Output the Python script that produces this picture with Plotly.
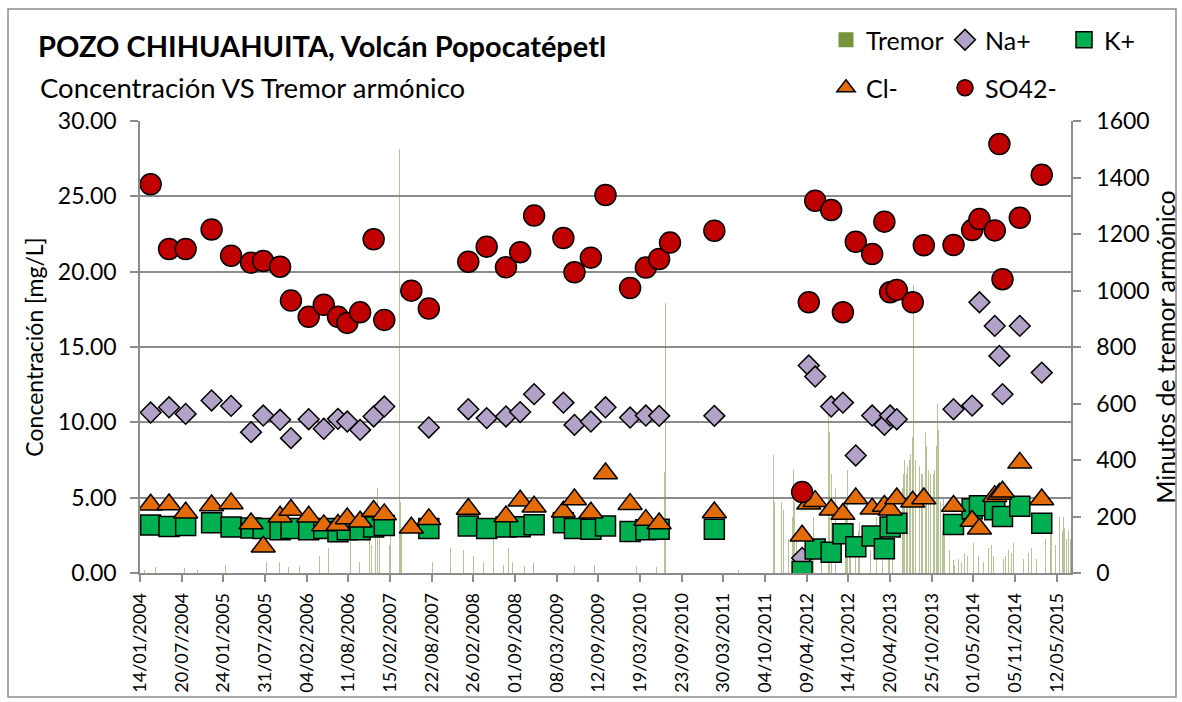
import pandas as pd
import plotly.graph_objects as go

FONT = "Lato"

# ---------------- data ----------------
sample_dates = [
    "2004-03-02", "2004-05-24", "2004-08-07", "2004-12-02", "2005-02-28", "2005-05-29",
    "2005-07-23", "2005-10-07", "2005-11-25", "2006-02-13", "2006-04-22", "2006-06-25",
    "2006-08-06", "2006-10-03", "2006-12-03", "2007-01-20", "2007-05-22", "2007-08-09",
    "2008-02-03", "2008-04-26", "2008-07-22", "2008-09-24", "2008-11-26", "2009-04-07",
    "2009-05-27", "2009-08-09", "2009-10-14", "2010-02-02", "2010-04-14", "2010-06-13",
    "2010-08-01", "2011-02-17", "2012-03-19", "2012-04-18", "2012-05-17", "2012-07-28",
    "2012-09-19", "2012-11-16", "2013-01-29", "2013-03-25", "2013-04-20", "2013-05-20",
    "2013-07-31", "2013-09-19", "2014-01-31", "2014-04-25", "2014-05-28", "2014-08-05",
    "2014-08-26", "2014-09-09", "2014-11-26", "2015-03-05",
]

so4 = [25.8, 21.5, 21.5, 22.8, 21.06, 20.6, 20.7, 20.33, 18.08, 17.0, 17.8, 17.0,
       16.6, 17.3, 22.15, 16.8, 18.74, 17.55, 20.66, 21.66, 20.29, 21.29, 23.72, 22.23,
       19.96, 20.93, 25.09, 18.92, 20.27, 20.84, 21.93, 22.72, 5.37, 17.97, 24.71, 24.09,
       17.31, 21.99, 21.17, 23.32, 18.63, 18.79, 17.97, 21.75, 21.77, 22.76, 23.49, 22.74,
       28.47, 19.5, 23.58, 26.43]

na = [10.65, 11.0, 10.56, 11.45, 11.09, 9.35, 10.45, 10.17, 8.95, 10.21, 9.57, 10.23,
      10.05, 9.5, 10.39, 11.05, None, 9.66, 10.87, 10.28, 10.39, 10.68, 11.87, 11.31,
      9.83, 10.05, 11.0, 10.32, 10.45, 10.43, None, 10.43, 1.0, 13.77, 13.04, 11.05,
      11.31, 7.8, 10.45, 9.83, 10.45, 10.21, None, None, 10.87, 11.11, 17.97, 16.4,
      14.41, 11.87, 16.4, 13.3]

cl = [4.53, 4.55, 4.0, 4.48, 4.62, 3.29, 1.74, 3.73, 4.18, 3.73, 3.16, 3.18,
      3.62, 3.4, 4.11, 3.89, 3.0, 3.56, 4.25, None, 3.75, 4.79, 4.4, 4.06,
      4.88, 4.0, 6.6, 4.57, 3.51, 3.29, None, 4.02, 2.47, 4.6, 4.77, 4.2,
      3.91, 4.95, 4.26, 4.44, 4.2, 4.95, 4.73, 4.95, 4.44, 3.45, 2.94, 5.1,
      5.25, 5.39, 7.31, 4.88]

k = [3.18, 3.09, 3.16, 3.34, 3.05, 2.98, 2.96, 2.87, 2.96, 2.87, 2.96, 2.74,
     2.87, 2.87, 3.05, 3.16, None, 2.96, 3.12, 2.96, 3.05, 3.07, 3.2, 3.34,
     2.96, 2.91, 3.12, 2.76, 2.87, 2.91, None, 2.91, 0.1, None, 1.6, 1.37,
     2.6, 1.75, 2.45, 1.61, 3.06, 3.3, None, None, 3.22, 4.26, 4.46, 4.2,
     None, 3.75, 4.43, 3.3]

# Tremor: (Excel serial date, minutes of harmonic tremor)
tremor_2004_2006 = [
    (38020, 12), (38045, 8), (38070, 20), (38104, 59), (38140, 10), (38175, 15),
    (38200, 18), (38229, 300), (38260, 12), (38290, 20), (38320, 15), (38347, 40),
    (38360, 25), (38370, 55), (38385, 30), (38406, 45), (38430, 20), (38460, 35),
    (38475, 60), (38492, 128), (38500, 70), (38510, 45), (38527, 107), (38545, 30),
    (38570, 40), (38587, 50), (38610, 25), (38630, 40), (38645, 35), (38670, 20),
    (38699, 30), (38720, 25), (38745, 50), (38770, 40), (38790, 20), (38810, 60),
    (38835, 35), (38850, 90), (38870, 40), (38890, 55), (38910, 30), (38935, 70),
    (38950, 120), (38962, 460), (38975, 60), (38990, 40), (39005, 80), (39020, 60),
    (39035, 150), (39045, 100),
]
tremor_2007_2008 = [
    (39050, 150), (39057, 390), (39062, 250), (39068, 718), (39072, 300), (39075, 200),
    (39080, 200), (39087, 718), (39092, 400), (39096, 300), (39100, 250), (39110, 150),
    (39115, 200), (39125, 100), (39130, 150), (39140, 250), (39146, 718), (39151, 1200),
    (39155, 400), (39160, 200), (39165, 300), (39170, 1500), (39175, 250), (39180, 150),
    (39187, 300), (39200, 60), (39215, 40), (39240, 50), (39260, 30), (39277, 95),
    (39300, 60), (39320, 40), (39340, 80), (39361, 200), (39375, 120), (39384, 213),
    (39400, 90), (39421, 150), (39440, 50), (39460, 80), (39480, 60), (39494, 100),
    (39505, 60), (39519, 107), (39534, 60), (39550, 40), (39565, 70), (39580, 50),
    (39594, 118), (39610, 45), (39624, 60), (39640, 30), (39662, 88), (39680, 40),
    (39697, 40), (39715, 30), (39735, 25), (39760, 800), (39775, 35), (39795, 50),
    (39817, 118),
]
tremor_2009_2011 = [
    (39840, 40), (39863, 60), (39880, 30), (39903, 88), (39922, 60), (39940, 30),
    (39960, 25), (39994, 40), (40020, 20), (40050, 30), (40076, 30), (40098, 89),
    (40130, 25), (40166, 30), (40200, 20), (40240, 25), (40270, 15), (40301, 30),
    (40330, 20), (40355, 60), (40366, 359), (40370, 957), (40376, 120), (40382, 80),
    (40410, 30), (40444, 41), (40480, 15), (40527, 20), (40617, 15), (40700, 10),
    (40780, 12), (40810, 30), (40830, 50), (40843, 60), (40850, 120), (40858, 418),
    (40862, 250), (40866, 200), (40870, 180), (40874, 150), (40882, 80), (40886, 300),
    (40891, 659), (40894, 250), (40897, 200), (40900, 180), (40903, 224), (40906, 220),
    (40910, 359), (40915, 250), (40920, 120), (40926, 120), (40933, 100), (40940, 60),
    (40944, 200), (40948, 365), (40952, 250), (40958, 80), (40962, 120), (40965, 150),
    (40972, 100), (40980, 60), (40985, 150), (40990, 120), (40995, 180),
]
tremor_2012 = [
    (41000, 200), (41004, 120), (41010, 90), (41014, 150), (41020, 60), (41026, 80),
    (41032, 120), (41038, 200), (41045, 80), (41050, 120), (41055, 100), (41060, 180),
    (41068, 150), (41074, 100), (41080, 100), (41086, 220), (41091, 250), (41095, 180),
    (41100, 300), (41103, 400), (41106, 588), (41110, 500), (41113, 798), (41116, 300),
    (41120, 350), (41123, 280), (41127, 400), (41130, 350), (41134, 250), (41138, 300),
    (41141, 659), (41145, 250), (41150, 200), (41154, 180), (41158, 150), (41162, 220),
    (41166, 365), (41170, 200), (41175, 120), (41179, 150), (41183, 200), (41187, 250),
    (41191, 365), (41195, 200), (41200, 150), (41205, 180), (41213, 200), (41217, 150),
    (41222, 100), (41228, 120), (41234, 250), (41238, 200), (41242, 150), (41246, 180),
    (41249, 354), (41254, 250), (41258, 120), (41262, 150), (41267, 150), (41271, 130),
    (41276, 100), (41280, 180), (41285, 270),
]
tremor_2013 = [
    (41295, 80), (41299, 100), (41303, 150), (41307, 120), (41312, 120), (41317, 150),
    (41322, 200), (41326, 120), (41330, 100), (41334, 180), (41339, 330), (41344, 250),
    (41350, 200), (41355, 200), (41361, 150), (41366, 180), (41370, 250), (41373, 300),
    (41377, 200), (41381, 250), (41384, 354), (41389, 200), (41395, 150), (41400, 250),
    (41407, 376), (41411, 300), (41415, 250), (41420, 280), (41425, 200), (41429, 200),
    (41434, 250), (41440, 300), (41445, 350), (41449, 400), (41452, 518), (41455, 420),
    (41458, 350), (41462, 380), (41465, 300), (41468, 450), (41472, 400), (41476, 420),
    (41479, 350), (41482, 530), (41485, 480), (41489, 1018), (41492, 500), (41495, 350),
    (41498, 400), (41501, 447), (41505, 350), (41510, 300), (41513, 420), (41516, 380),
    (41519, 506), (41523, 400), (41526, 350), (41530, 350), (41533, 300), (41536, 420),
    (41540, 450), (41543, 500), (41545, 1318), (41548, 450), (41551, 400), (41554, 380),
    (41557, 365), (41560, 420), (41563, 300), (41566, 350), (41569, 250), (41573, 300),
    (41577, 350), (41580, 350), (41584, 365), (41587, 400), (41590, 500), (41593, 450),
    (41595, 1325), (41598, 600), (41602, 506), (41605, 350), (41608, 300), (41611, 250),
    (41614, 200), (41617, 200), (41620, 150), (41625, 270), (41630, 150), (41635, 120),
    (41640, 120), (41646, 100), (41652, 80), (41658, 60),
]
tremor_2014_2015 = [
    (41670, 47), (41675, 30), (41685, 40), (41692, 50), (41700, 60), (41706, 40),
    (41712, 50), (41720, 70), (41727, 90), (41733, 60), (41740, 40), (41748, 50),
    (41760, 107), (41766, 80), (41775, 50), (41782, 60), (41790, 70), (41798, 50),
    (41805, 40), (41812, 60), (41820, 80), (41828, 90), (41835, 129), (41842, 100),
    (41850, 60), (41858, 50), (41865, 40), (41872, 70), (41880, 60), (41888, 40),
    (41895, 50), (41904, 60), (41912, 90), (41918, 80), (41925, 50), (41932, 70),
    (41940, 106), (41947, 90), (41955, 60), (41962, 50), (41971, 70), (41978, 60),
    (41985, 50), (41992, 40), (42000, 40), (42008, 70), (42016, 100), (42022, 90),
    (42028, 60), (42033, 70), (42038, 80), (42044, 50), (42050, 60), (42057, 100),
    (42065, 120), (42070, 90), (42078, 80), (42085, 120), (42091, 165), (42096, 130),
    (42100, 100), (42104, 110), (42108, 140), (42112, 150), (42115, 120), (42120, 130),
    (42124, 160), (42127, 150), (42130, 100), (42133, 170), (42136, 188), (42140, 160),
    (42145, 150), (42148, 200), (42151, 140), (42155, 170), (42158, 180), (42162, 150),
    (42166, 200), (42168, 190), (42170, 160), (42174, 218), (42177, 180), (42180, 120),
    (42183, 140), (42186, 200), (42189, 153), (42192, 170), (42195, 100), (42198, 120),
]

tick_labels = [
    "14/01/2004", "20/07/2004", "24/01/2005", "31/07/2005", "04/02/2006", "11/08/2006",
    "15/02/2007", "22/08/2007", "26/02/2008", "01/09/2008", "08/03/2009", "12/09/2009",
    "19/03/2010", "23/09/2010", "30/03/2011", "04/10/2011", "09/04/2012", "14/10/2012",
    "20/04/2013", "25/10/2013", "01/05/2014", "05/11/2014", "12/05/2015",
]
x_range_serial = [38000, 42200]

# ---------------- helpers ----------------
def serial_to_date(s):
    return pd.to_datetime(s, unit="D", origin="1899-12-30")

tremor = pd.DataFrame(
    tremor_2004_2006 + tremor_2007_2008 + tremor_2009_2011 + tremor_2012
    + tremor_2013 + tremor_2014_2015,
    columns=["serial", "minutes"],
)
x_tremor = serial_to_date(tremor["serial"])
x_samples = pd.to_datetime(sample_dates)
tick_vals = pd.to_datetime(tick_labels, format="%d/%m/%Y")
x_range = [serial_to_date(v) for v in x_range_serial]

AX = "#8C8C8C"
OUT = dict(color="black", width=1.5)

fig = go.Figure()

# Tremor bars (right axis, base subplot so it sits behind the markers)
fig.add_trace(go.Bar(
    x=x_tremor, y=tremor["minutes"], name="Tremor",
    marker=dict(color="rgba(119,147,60,0.55)", line=dict(width=0)),
    width=86400000 * 1.5, xaxis="x", yaxis="y", showlegend=False,
))
# legend entry for tremor
fig.add_trace(go.Scatter(
    x=[None], y=[None], mode="markers", name="Tremor",
    marker=dict(symbol="square", size=15, color="#77933C"),
    xaxis="x", yaxis="y", legend="legend",
))

fig.add_trace(go.Scatter(
    x=x_samples, y=na, mode="markers", name="Na+",
    marker=dict(symbol="diamond", size=16, color="#B3A2C7", line=OUT),
    xaxis="x", yaxis="y2", legend="legend",
))
fig.add_trace(go.Scatter(
    x=x_samples, y=k, mode="markers", name="K+",
    marker=dict(symbol="square", size=20, color="#00B050", line=OUT),
    xaxis="x", yaxis="y2", legend="legend",
))
fig.add_trace(go.Scatter(
    x=x_samples, y=cl, mode="markers", name="Cl-",
    marker=dict(symbol="triangle-up", size=21, color="#E36C09", line=OUT),
    xaxis="x", yaxis="y2", legend="legend2",
))
fig.add_trace(go.Scatter(
    x=x_samples, y=so4, mode="markers", name="SO42-",
    marker=dict(symbol="circle", size=21, color="#C00000", line=OUT),
    xaxis="x", yaxis="y2", legend="legend2",
))

legend_common = dict(
    orientation="h", xref="container", yref="container",
    xanchor="left", yanchor="middle", entrywidth=74, entrywidthmode="pixels",
    font=dict(family=FONT, size=25, color="black"), bgcolor="rgba(0,0,0,0)",
    traceorder="normal",
)

fig.update_layout(
    width=1182, height=702,
    margin=dict(l=140, r=111, t=121, b=129, autoexpand=False),
    paper_bgcolor="white", plot_bgcolor="white",
    font=dict(family=FONT, color="black"),
    bargap=0,
    title=dict(
        text="<b>POZO CHIHUAHUITA, Volcán Popocatépetl</b>",
        x=38 / 1182, xref="container", xanchor="left",
        y=1 - 47 / 702, yref="container", yanchor="middle",
        font=dict(family=FONT, size=29, color="black"),
    ),
    legend=dict(x=826 / 1182, y=1 - 40 / 702, **legend_common),
    legend2=dict(x=826 / 1182, y=1 - 88 / 702, **legend_common),
    xaxis=dict(
        type="date", range=x_range, tickvals=tick_vals, ticktext=tick_labels,
        tickangle=-90, ticks="outside", ticklen=7, tickcolor=AX, tickwidth=1.5,
        showline=True, linecolor=AX, linewidth=1.5, showgrid=False, zeroline=False,
        tickfont=dict(family=FONT, size=18, color="black"),
        ticklabelstandoff=4,
    ),
    yaxis=dict(
        range=[0, 1600], dtick=200, side="right", showgrid=False, zeroline=False,
        ticks="outside", ticklen=8, tickcolor=AX, tickwidth=1.5,
        showline=True, linecolor=AX, linewidth=1.5,
        tickfont=dict(family=FONT, size=23, color="black"),
        ticklabelstandoff=11,
        title=dict(text="Minutos de tremor armónico", standoff=3,
                   font=dict(family=FONT, size=25, color="black")),
    ),
    yaxis2=dict(
        range=[0, 30], dtick=5, tickformat=".2f", side="left", overlaying="y",
        showgrid=True, gridcolor=AX, gridwidth=1.5, zeroline=False,
        ticks="outside", ticklen=8, tickcolor=AX, tickwidth=1.5,
        showline=True, linecolor=AX, linewidth=1.5,
        tickfont=dict(family=FONT, size=23, color="black"),
        ticklabelstandoff=9,
        title=dict(text="Concentración [mg/L]", standoff=8,
                   font=dict(family=FONT, size=23, color="black")),
    ),
    annotations=[dict(
        text="Concentración VS Tremor armónico", xref="paper", yref="paper",
        x=(38 - 140) / 931, y=(573 - 87) / 452, xanchor="left", yanchor="middle",
        showarrow=False, font=dict(family=FONT, size=27.5, color="black"),
    )],
    shapes=[dict(
        type="rect", xref="paper", yref="paper",
        x0=(8 - 140) / 931, x1=(1176 - 140) / 931,
        y0=(573 - 697) / 452, y1=(573 - 9) / 452,
        line=dict(color=AX, width=1.5), fillcolor="rgba(0,0,0,0)", layer="below",
    )],
)

fig.write_html(
    "out.html",
    config={"displayModeBar": False},
    post_script="document.body.style.margin='0px';",
)
